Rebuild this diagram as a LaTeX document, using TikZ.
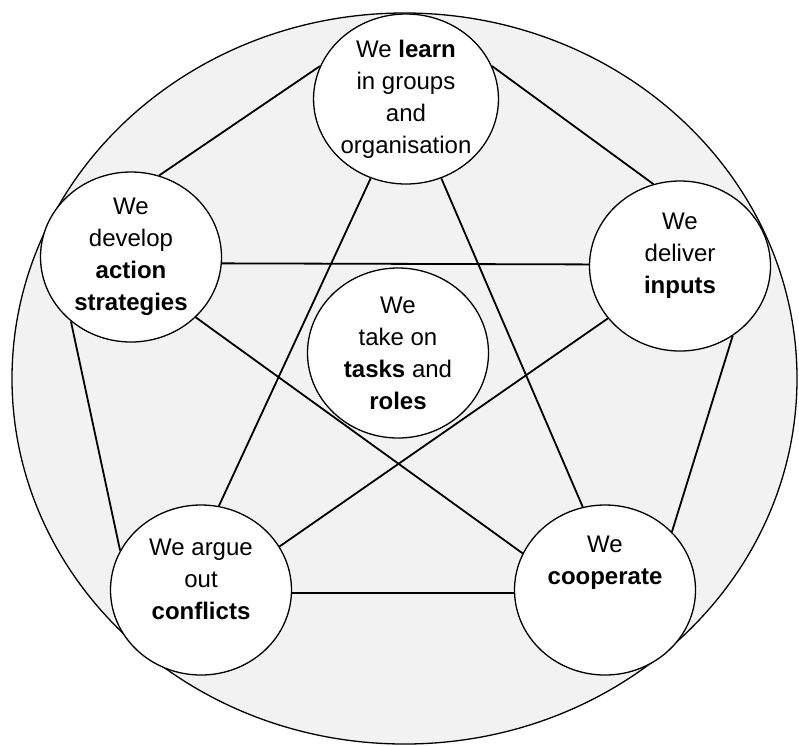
\documentclass[tikz,border=0pt]{standalone}
\usepackage{fontspec}
\setmainfont{Liberation Sans}
\usepackage{tikz}
\usetikzlibrary{shapes.geometric}
\usetikzlibrary{backgrounds}
\definecolor{rimgray}{HTML}{F2F2F2}
\tikzset{bubble/.style={ellipse,draw=black,fill=white,line width=1.3pt,minimum width=181pt,minimum height=170pt,inner sep=0pt,align=center}}
\tikzset{words/.style={align=center,inner sep=0pt}}
\tikzset{link/.style={line width=1.8pt}}

\begin{document}
\begin{tikzpicture}[x=1pt,y=-1pt,font=\fontsize{24}{32}\selectfont]
\useasboundingbox (0,0) rectangle (799,745);

\node[bubble] (learn) at (406,99) {We \textbf{learn}\\in groups\\and\\organisation};
\node[bubble] (dev) at (131,257) {We\\develop\\\textbf{action}\\\textbf{strategies}};
\node[bubble] (inp) at (680,266) {};
\node[bubble] (mid) at (398,353) {We\\take on\\\textbf{tasks} and\\\textbf{roles}};
\node[bubble] (arg) at (201,590) {};
\node[bubble] (coop) at (605,590) {};

\node[words] (inpT) at ([yshift=10pt]inp.center) {We\\deliver\\\textbf{inputs}};
\node[words] (argT) at ([yshift=11pt]arg.center) {We argue\\out\\\textbf{conflicts}};
\node[words] (coopT) at ([yshift=27pt]coop.center) {We\\\textbf{cooperate}};

\begin{scope}[on background layer]
\node[ellipse,draw=black,fill=rimgray,line width=1.3pt,minimum width=785pt,minimum height=731pt,inner sep=0pt] (rim) at (404.5,378.5) {};
% outer ring
\draw[link] (learn.159) -- (dev.71);
\draw[link] (learn.21) -- (inp.108);
\draw[link] (dev.227) -- (arg.154);
\draw[link] (inp.307) -- (coop.41);
\draw[link] (arg.358) -- (coop.182);
% star
\draw[link] (learn.246) -- (arg.78);
\draw[link] (learn.294) -- (coop.105);
\draw[link] (dev.356) -- (inp.179);
\draw[link] (dev.317) -- (coop.156);
\draw[link] (inp.216) -- (arg.29);
\end{scope}
\end{tikzpicture}
\end{document}
